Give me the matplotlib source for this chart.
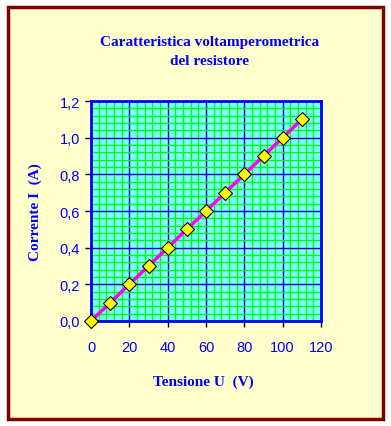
import matplotlib
matplotlib.use("Agg")
from matplotlib import pyplot as plt
from matplotlib.patches import Rectangle
import numpy as np

# data
tensione = [0, 10, 20, 30, 40, 50, 60, 70, 80, 90, 100, 110]
corrente = [0.0, 0.1, 0.2, 0.3, 0.4, 0.5, 0.6, 0.7, 0.8, 0.9, 1.0, 1.1]
x_ticks = [0, 20, 40, 60, 80, 100, 120]
y_ticks = [0.0, 0.2, 0.4, 0.6, 0.8, 1.0, 1.2]

fig = plt.figure(figsize=(3.91, 4.27), dpi=100)
fig.patch.set_facecolor("white")

# outer frame
fig.patches.append(Rectangle((8 / 391, 7 / 427), 375 / 391, 412 / 427,
                             transform=fig.transFigure, facecolor="#FFFFCC",
                             edgecolor="#800000", linewidth=2.5, zorder=-5))

ax = fig.add_axes([91 / 391, 105 / 427, 230 / 391, 220 / 427])
ax.set_zorder(2)
ax.set_facecolor("#80FFFF")

ax.set_xlim(0, 120)
ax.set_ylim(0, 1.2)
ax.set_xticks(x_ticks)
ax.set_yticks(y_ticks)
ax.set_xticks(np.arange(0, 121, 4), minor=True)
ax.set_yticks(np.arange(0, 1.21, 0.04), minor=True)
ax.set_xticklabels([str(v) for v in x_ticks])
ax.set_yticklabels([("%.1f" % v).replace(".", ",") for v in y_ticks])

ax.grid(which="minor", color="#00FF00", linewidth=1.0, zorder=0)
ax.grid(which="major", color="#0000CC", linewidth=1.0, zorder=0)
ax.set_axisbelow(True)

ax.tick_params(which="major", direction="out", length=4, width=1, color="black",
               labelcolor="#0000FF", labelsize=10.5, pad=4)
ax.tick_params(axis="x", pad=10)
ax.tick_params(which="minor", length=0)
for lbl in ax.get_xticklabels() + ax.get_yticklabels():
    lbl.set_fontfamily("Liberation Sans")

for s in ax.spines.values():
    s.set_color("#0000FF")
    s.set_linewidth(2)

ax.plot(tensione, corrente, color="#FF00FF", linewidth=2.5, marker="D",
        markersize=7, markerfacecolor="#FFFF00", markeredgecolor="black",
        markeredgewidth=0.8, clip_on=False, zorder=3)

fig.text(210 / 391, 1 - 52 / 427, "Caratteristica voltamperometrica\ndel resistore",
         ha="center", va="center", color="#0000FF", fontsize=11,
         fontweight="bold", family="Liberation Serif", linespacing=1.6)
ax.set_xlabel("Tensione U  (V)", color="#0000FF", fontsize=11, fontweight="bold",
              family="Liberation Serif", va="center")
ax.set_ylabel("Corrente I  (A)", color="#0000FF", fontsize=11, fontweight="bold",
              family="Liberation Serif", va="center")
ax.xaxis.set_label_coords(0.5 + (203 - 206) / 230, -(382 - 322) / 220)
ax.yaxis.set_label_coords(-(91 - 35) / 230, 0.5)

fig.savefig("out.png", dpi=100)
